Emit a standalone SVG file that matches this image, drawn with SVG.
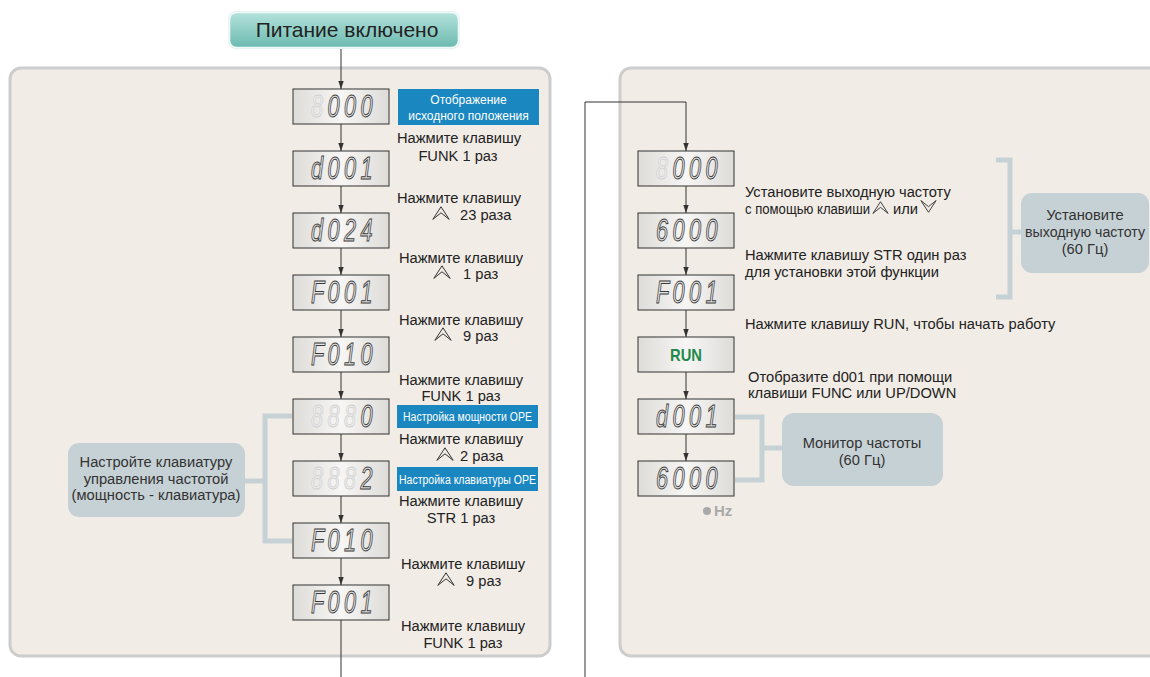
<svg xmlns="http://www.w3.org/2000/svg" xmlns:xlink="http://www.w3.org/1999/xlink" width="1150" height="677" viewBox="0 0 1150 677">
<style>
.lbl{font-family:"Liberation Sans",Arial,sans-serif;font-size:14.7px;fill:#222}
.c{text-anchor:middle}
.flow{stroke:#333;stroke-width:1;fill:none}
.brk{stroke:#c6d1d5;stroke-width:5;fill:none}
.disp{fill:url(#dgr);stroke:#333;stroke-width:1}
.gh{font-family:"Liberation Sans",Arial,sans-serif;font-size:31px;font-style:italic;fill:#ececec;stroke:#cfcfcf;stroke-width:0.8}
.dg{font-family:"Liberation Sans",Arial,sans-serif;font-size:31px;font-style:italic;fill:#e4e4e4;stroke:#3a3a3a;stroke-width:1}
.tag{fill:#1a87c1}
.tagt{font-family:"Liberation Sans",Arial,sans-serif;font-size:12px;fill:#fff;text-anchor:middle}
.bub{fill:#c6d1d5}
.bubt{font-family:"Liberation Sans",Arial,sans-serif;font-size:14.7px;fill:#333;text-anchor:middle}
.ico{fill:none;stroke:#333;stroke-width:1}
.panel{fill:#f1ece5;stroke:#cdcdcd;stroke-width:3}
</style>
<defs>
<linearGradient id="dgr" x1="0" y1="0" x2="1" y2="0">
<stop offset="0" stop-color="#dedcd9"/><stop offset="0.5" stop-color="#f7f6f4"/><stop offset="1" stop-color="#dedcd9"/>
</linearGradient>
<linearGradient id="tgr" x1="0" y1="0" x2="0" y2="1">
<stop offset="0" stop-color="#b4e2dc"/><stop offset="1" stop-color="#6cbab0"/>
</linearGradient>
<marker id="ah" markerWidth="8" markerHeight="8" refX="8" refY="4" orient="auto" markerUnits="userSpaceOnUse">
<path d="M0,1.3 L8,4 L0,6.7 z" fill="#333"/>
</marker>
<symbol id="up" viewBox="0 0 18 14"><path class="ico" d="M0.8,13.4 L9,0.8 L17.2,13.4 L9,6.8 Z"/></symbol>
<symbol id="dn" viewBox="0 0 18 14"><path class="ico" d="M0.8,0.6 L9,13.2 L17.2,0.6 L9,7.2 Z"/></symbol>
</defs>
<rect width="1150" height="677" fill="#fff"/>

<g id="panels">
<rect class="panel" x="10" y="68" width="540" height="588" rx="11"/>
<rect class="panel" x="620" y="68" width="560" height="588" rx="11"/>
</g>

<g id="brackets">
<path class="brk" d="M245,481 H265 M292,416 H265 V541 H292"/>
<path class="brk" d="M735,417 H762 V480 H735 M762,448 H782"/>
<path class="brk" d="M996,160 H1010 V297 H996 M1010,232 H1021"/>
</g>

<g id="connectors">
<path class="flow" d="M341,48 V89" marker-end="url(#ah)"/>
<path class="flow" d="M341,124 V151" marker-end="url(#ah)"/>
<path class="flow" d="M341,186 V213" marker-end="url(#ah)"/>
<path class="flow" d="M341,248 V275" marker-end="url(#ah)"/>
<path class="flow" d="M341,310 V337" marker-end="url(#ah)"/>
<path class="flow" d="M341,372 V399" marker-end="url(#ah)"/>
<path class="flow" d="M341,434 V461" marker-end="url(#ah)"/>
<path class="flow" d="M341,496 V523" marker-end="url(#ah)"/>
<path class="flow" d="M341,558 V585" marker-end="url(#ah)"/>
<path class="flow" d="M341,620 V677"/>
<path class="flow" d="M585,677 V102 H686 V151" marker-end="url(#ah)"/>
<path class="flow" d="M686,186 V213" marker-end="url(#ah)"/>
<path class="flow" d="M686,248 V275" marker-end="url(#ah)"/>
<path class="flow" d="M686,310 V337" marker-end="url(#ah)"/>
<path class="flow" d="M686,372 V399" marker-end="url(#ah)"/>
<path class="flow" d="M686,434 V461" marker-end="url(#ah)"/>
</g>

<g id="title">
<rect x="228" y="11" width="232" height="38" rx="8" fill="#e4f2f0"/>
<rect x="229.5" y="12.5" width="229" height="35" rx="7" fill="url(#tgr)" stroke="#f2faf9" stroke-width="1.5"/>
<text class="lbl c" x="347" y="37" style="font-size:21px">Питание включено</text>
</g>

<!-- left displays -->
<g id="dL1" transform="translate(293,89)"><rect class="disp" width="96" height="35"/><g transform="scale(0.7,1)"><text class="gh" x="25.7" y="28">8</text><text class="dg" x="49.3 72.9 96.4" y="28">000</text></g></g>
<g id="dL2" transform="translate(293,151)"><rect class="disp" width="96" height="35"/><g transform="scale(0.7,1)"><text class="dg" x="25.7 49.3 72.9 96.4" y="28">d001</text></g></g>
<g id="dL3" transform="translate(293,213)"><rect class="disp" width="96" height="35"/><g transform="scale(0.7,1)"><text class="dg" x="25.7 49.3 72.9 96.4" y="28">d024</text></g></g>
<g id="dL4" transform="translate(293,275)"><rect class="disp" width="96" height="35"/><g transform="scale(0.7,1)"><text class="dg" x="25.7 49.3 72.9 96.4" y="28">F001</text></g></g>
<g id="dL5" transform="translate(293,337)"><rect class="disp" width="96" height="35"/><g transform="scale(0.7,1)"><text class="dg" x="25.7 49.3 72.9 96.4" y="28">F010</text></g></g>
<g id="dL6" transform="translate(293,399)"><rect class="disp" width="96" height="35"/><g transform="scale(0.7,1)"><text class="gh" x="25.7 49.3 72.9" y="28">888</text><text class="dg" x="96.4" y="28">0</text></g></g>
<g id="dL7" transform="translate(293,461)"><rect class="disp" width="96" height="35"/><g transform="scale(0.7,1)"><text class="gh" x="25.7 49.3 72.9" y="28">888</text><text class="dg" x="96.4" y="28">2</text></g></g>
<g id="dL8" transform="translate(293,523)"><rect class="disp" width="96" height="35"/><g transform="scale(0.7,1)"><text class="dg" x="25.7 49.3 72.9 96.4" y="28">F010</text></g></g>
<g id="dL9" transform="translate(293,585)"><rect class="disp" width="96" height="35"/><g transform="scale(0.7,1)"><text class="dg" x="25.7 49.3 72.9 96.4" y="28">F001</text></g></g>

<!-- right displays -->
<g id="dR1" transform="translate(638,151)"><rect class="disp" width="96" height="35"/><g transform="scale(0.7,1)"><text class="gh" x="25.7" y="28">8</text><text class="dg" x="49.3 72.9 96.4" y="28">000</text></g></g>
<g id="dR2" transform="translate(638,213)"><rect class="disp" width="96" height="35"/><g transform="scale(0.7,1)"><text class="dg" x="25.7 49.3 72.9 96.4" y="28">6000</text></g></g>
<g id="dR3" transform="translate(638,275)"><rect class="disp" width="96" height="35"/><g transform="scale(0.7,1)"><text class="dg" x="25.7 49.3 72.9 96.4" y="28">F001</text></g></g>
<g id="dR4" transform="translate(638,337)"><rect class="disp" width="96" height="35"/><text x="48" y="24" text-anchor="middle" textLength="32" lengthAdjust="spacingAndGlyphs" style="font-family:'Liberation Sans',Arial,sans-serif;font-size:17px;font-weight:bold;fill:#1f8a4c">RUN</text></g>
<g id="dR5" transform="translate(638,399)"><rect class="disp" width="96" height="35"/><g transform="scale(0.7,1)"><text class="dg" x="25.7 49.3 72.9 96.4" y="28">d001</text></g></g>
<g id="dR6" transform="translate(638,461)"><rect class="disp" width="96" height="35"/><g transform="scale(0.7,1)"><text class="dg" x="25.7 49.3 72.9 96.4" y="28">6000</text></g></g>

<g id="hz">
<circle cx="707" cy="511" r="4" fill="#a9a9a9"/>
<text x="714" y="516" style="font-family:'Liberation Sans',Arial,sans-serif;font-size:15px;font-weight:bold;fill:#a9a9a9">Hz</text>
</g>

<!-- blue tags -->
<g id="tag1"><rect class="tag" x="398" y="89" width="141" height="36"/><text class="tagt" x="468.5" y="104">Отображение</text><text class="tagt" x="468.5" y="120">исходного положения</text></g>
<g id="tag2"><rect class="tag" x="397" y="405" width="141" height="23"/><text class="tagt" x="467.5" y="421" textLength="129" lengthAdjust="spacingAndGlyphs">Настройка мощности OPE</text></g>
<g id="tag3"><rect class="tag" x="397" y="467" width="141" height="24"/><text class="tagt" x="467.5" y="484" textLength="137" lengthAdjust="spacingAndGlyphs">Настройка клавиатуры OPE</text></g>

<!-- left step labels -->
<g id="steps-left">
<text class="lbl c" x="459" y="143">Нажмите клавишу</text>
<text class="lbl c" x="458" y="161">FUNK 1 раз</text>
<text class="lbl c" x="459" y="203">Нажмите клавишу</text>
<use href="#up" x="432" y="206" width="18" height="14"/>
<text class="lbl" x="460" y="220">23 раза</text>
<text class="lbl c" x="461" y="263">Нажмите клавишу</text>
<use href="#up" x="433" y="265" width="18" height="14"/>
<text class="lbl" x="463" y="279">1 раз</text>
<text class="lbl c" x="461" y="325">Нажмите клавишу</text>
<use href="#up" x="434" y="327" width="18" height="14"/>
<text class="lbl" x="463" y="341">9 раз</text>
<text class="lbl c" x="461" y="385">Нажмите клавишу</text>
<text class="lbl c" x="461" y="401">FUNK 1 раз</text>
<text class="lbl c" x="461" y="444">Нажмите клавишу</text>
<use href="#up" x="436" y="447" width="18" height="14"/>
<text class="lbl" x="460" y="461">2 раза</text>
<text class="lbl c" x="461" y="506">Нажмите клавишу</text>
<text class="lbl c" x="461" y="523">STR 1 раз</text>
<text class="lbl c" x="463" y="569">Нажмите клавишу</text>
<use href="#up" x="437" y="572" width="18" height="14"/>
<text class="lbl" x="466" y="586">9 раз</text>
<text class="lbl c" x="463" y="631">Нажмите клавишу</text>
<text class="lbl c" x="463" y="648">FUNK 1 раз</text>
</g>

<g id="bubble-left">
<rect class="bub" x="68" y="443" width="177" height="74" rx="11"/>
<text class="bubt" x="156" y="467">Настройте клавиатуру</text>
<text class="bubt" x="156" y="484">управления частотой</text>
<text class="bubt" x="156" y="500">(мощность - клавиатура)</text>
</g>

<!-- right step labels -->
<g id="steps-right">
<text class="lbl" x="745" y="197">Установите выходную частоту</text>
<text class="lbl" x="745" y="214" textLength="125" lengthAdjust="spacingAndGlyphs">с помощью клавиши</text>
<use href="#up" x="872" y="201" width="17" height="13"/>
<text class="lbl" x="893" y="214">или</text>
<use href="#dn" x="920" y="200" width="17" height="13"/>
<text class="lbl" x="745" y="260">Нажмите клавишу STR один раз</text>
<text class="lbl" x="745" y="277">для установки этой функции</text>
<text class="lbl" x="745" y="329">Нажмите клавишу RUN, чтобы начать работу</text>
<text class="lbl" x="748" y="382">Отобразите d001 при помощи</text>
<text class="lbl" x="748" y="398">клавиши FUNC или UP/DOWN</text>
</g>

<g id="bubble-monitor">
<rect class="bub" x="782" y="413" width="161" height="73" rx="12"/>
<text class="bubt" x="862" y="448">Монитор частоты</text>
<text class="bubt" x="862" y="465">(60 Гц)</text>
</g>

<g id="bubble-freq">
<rect class="bub" x="1021" y="193" width="128" height="80" rx="11"/>
<text class="bubt" x="1085" y="220">Установите</text>
<text class="bubt" x="1085" y="237" textLength="120" lengthAdjust="spacingAndGlyphs">выходную частоту</text>
<text class="bubt" x="1085" y="254">(60 Гц)</text>
</g>
</svg>
